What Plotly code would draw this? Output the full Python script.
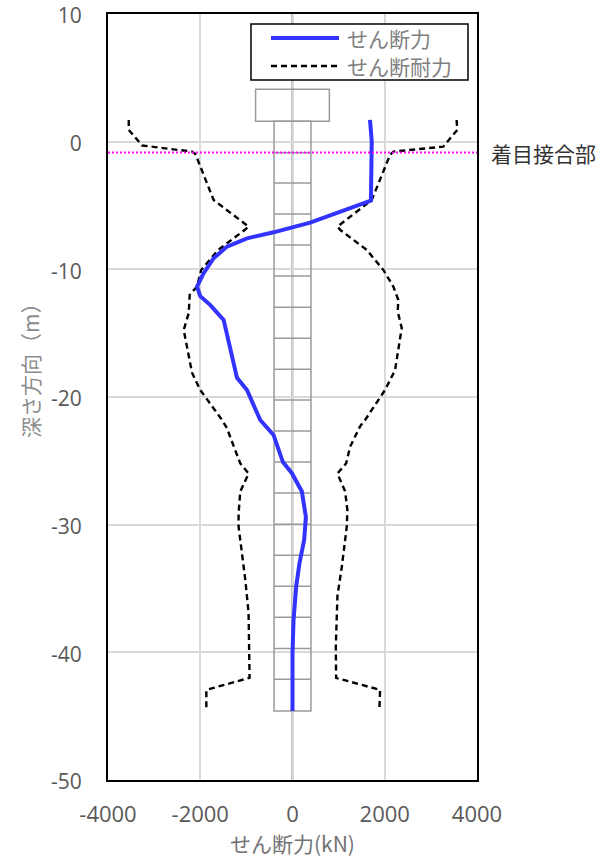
import plotly.graph_objects as go

# ---- data ----
shear_x = [1680, 1718, 1700, 383, -411, -987, -1420, -1710, -1926, -2070, -2000, -1781, -1493,
           -1203, -987, -700, -411, -208, -13, 203, 290, 253, 152, 80, 22, 0, 0]
shear_y = [1.7, 0.0, -4.62, -6.34, -7.1, -7.57, -8.22, -9.13, -10.3, -11.35, -12.1, -12.8, -13.96,
           -18.5, -19.45, -21.8, -22.97, -25.1, -25.97, -27.4, -29.4, -31.2, -33.0, -34.85, -37.5, -40.1, -44.6]

cap_pos_x = [3558, 3572, 3268, 2186, 2115, 1898, 1718, 974, 1032, 1610, 1970, 2186, 2294, 2281, 2368,
             2223, 2006, 1574, 1465, 1249, 1162, 974, 1141, 1190, 1177, 1069, 974, 939, 946, 1898, 1883]
cap_pos_y = [1.7, 0.92, -0.39, -0.78, -1.04, -3.0, -4.57, -6.65, -6.9, -8.48, -10.05, -11.35, -12.4, -13.3, -14.6,
             -17.9, -19.45, -21.8, -22.3, -23.9, -25.2, -26.0, -27.4, -28.85, -30.15, -33.3, -35.6, -39.55, -42.0, -42.94, -44.6]

cap_neg_x = [-3550, -3550, -3260, -2178, -2106, -1710, -952, -1032, -1610, -1980, -2070, -2229, -2250, -2359,
             -2178, -2000, -1528, -1420, -1270, -1132, -952, -1132, -1169, -1169, -1024, -952, -931, -1868, -1868]
cap_neg_y = [1.7, 0.92, -0.3, -0.78, -0.96, -4.57, -6.65, -6.9, -8.48, -10.05, -11.35, -12.0, -13.44, -14.75,
             -18.1, -19.45, -21.8, -22.45, -23.9, -25.2, -26.0, -27.4, -29.1, -30.15, -34.3, -36.9, -42.0, -42.94, -44.6]

# pile sketch (data units)
footing_x = [-800, 800]
footing_y = [1.6, 4.1]
pile_x = [-400, 400]
pile_top = 1.6
pile_bottom = -44.6
pile_joints = [-0.86, -3.24, -5.67, -8.09, -10.52, -12.97, -15.40, -17.83, -20.24, -22.67,
               -25.09, -27.52, -29.97, -32.40, -34.83, -37.26, -39.69, -42.11]
focus_depth = -0.85
focus_label = "着目接合部"

x_ticks = [-4000, -2000, 0, 2000, 4000]
x_ticktext = ["-4000", "-2000", "0", "2000", "4000"]
y_ticks = [10, 0, -10, -20, -30, -40, -50]
y_ticktext = ["10", "0", "-10", "-20", "-30", "-40", "-50"]

series_names = ["せん断力", "せん断耐力"]
x_title = "せん断力(kN)"
y_title = "深さ方向（m）"

FONT = "Open Sans, Noto Sans CJK JP, sans-serif"
CJK = "Noto Sans CJK JP, sans-serif"
BLUE = "#3333ff"
DASH = "6px,4px"

fig = go.Figure()
fig.add_trace(go.Scatter(x=cap_pos_x, y=cap_pos_y, mode="lines", name=series_names[1],
                         line=dict(color="black", width=2.4, dash=DASH), showlegend=False))
fig.add_trace(go.Scatter(x=cap_neg_x, y=cap_neg_y, mode="lines", name=series_names[1],
                         line=dict(color="black", width=2.4, dash=DASH), showlegend=False))
fig.add_trace(go.Scatter(x=shear_x, y=shear_y, mode="lines", name=series_names[0],
                         line=dict(color=BLUE, width=4), showlegend=False))

shapes = []
gray = "#9a9a9a"
shapes.append(dict(type="rect", xref="x", yref="y", x0=footing_x[0], x1=footing_x[1],
                   y0=footing_y[0], y1=footing_y[1], line=dict(color=gray, width=1.5), layer="between"))
shapes.append(dict(type="rect", xref="x", yref="y", x0=pile_x[0], x1=pile_x[1],
                   y0=pile_bottom, y1=pile_top, line=dict(color=gray, width=1.5), layer="between"))
for d in pile_joints:
    shapes.append(dict(type="line", xref="x", yref="y", x0=pile_x[0], x1=pile_x[1], y0=d, y1=d,
                       line=dict(color=gray, width=1.5), layer="between"))
# zero lines over pile sketch
shapes.append(dict(type="line", xref="x", yref="paper", x0=0, x1=0, y0=0, y1=1,
                   line=dict(color="black", width=1.5), layer="between"))
shapes.append(dict(type="line", xref="paper", yref="y", x0=0, x1=1, y0=0, y1=0,
                   line=dict(color="black", width=1.5), layer="between"))
# focus line
shapes.append(dict(type="line", xref="paper", yref="y", x0=0, x1=1, y0=focus_depth, y1=focus_depth,
                   line=dict(color="#ff00ff", width=2, dash="2px,2px"), layer="above"))

# manual legend (paper coords)
L, R, T, B = 108, 477, 14, 780
W, H = R - L, B - T
def px(x): return (x - L) / W
def py(y): return 1 - (y - T) / H
shapes.append(dict(type="rect", xref="paper", yref="paper", x0=px(251), x1=px(468), y0=py(80), y1=py(24),
                   line=dict(color="black", width=1.5), fillcolor="white", layer="above"))
shapes.append(dict(type="line", xref="paper", yref="paper", x0=px(271), x1=px(339), y0=py(38), y1=py(38),
                   line=dict(color=BLUE, width=4), layer="above"))
shapes.append(dict(type="line", xref="paper", yref="paper", x0=px(271), x1=px(339), y0=py(66), y1=py(66),
                   line=dict(color="black", width=2.4, dash=DASH), layer="above"))
annotations = [
    dict(xref="paper", yref="paper", x=px(345), y=py(38), text=series_names[0], showarrow=False,
         xanchor="left", yanchor="middle", font=dict(family=CJK, size=21, color="#7f7f7f")),
    dict(xref="paper", yref="paper", x=px(345), y=py(66), text=series_names[1], showarrow=False,
         xanchor="left", yanchor="middle", font=dict(family=CJK, size=21, color="#7f7f7f")),
    dict(xref="paper", yref="y", x=px(489), y=focus_depth, text=focus_label, showarrow=False,
         xanchor="left", yanchor="middle", font=dict(family=CJK, size=21, color="#333333")),
    dict(xref="paper", yref="paper", x=px(30), y=py(366), text=y_title, showarrow=False, textangle=-90,
         xanchor="center", yanchor="middle", font=dict(family=CJK, size=21, color="#8c8c8c")),
]

fig.update_layout(
    width=610, height=861,
    margin=dict(l=L, r=610 - R, t=T, b=861 - B, pad=0),
    paper_bgcolor="white", plot_bgcolor="white",
    font=dict(family=FONT, size=22, color="#595959"),
    shapes=shapes, annotations=annotations,
    showlegend=False,
    xaxis=dict(range=[-4000, 4000], tickvals=x_ticks, ticktext=x_ticktext,
               showgrid=True, gridcolor="#d9d9d9", gridwidth=1.5, zeroline=False,
               showline=True, linecolor="black", linewidth=2, mirror=True, ticks="",
               ticklabelstandoff=14, automargin=False, ticklabeloverflow="allow",
               tickfont=dict(family=FONT, size=22, color="#595959"),
               title=dict(text=x_title, font=dict(family=CJK, size=21, color="#737373"), standoff=6)),
    yaxis=dict(range=[-50, 10], tickvals=y_ticks, ticktext=y_ticktext,
               showgrid=True, gridcolor="#d9d9d9", gridwidth=1.5, zeroline=False,
               showline=True, linecolor="black", linewidth=2, mirror=True, ticks="",
               ticklabelstandoff=20, ticklabelshift=2, automargin=False, ticklabeloverflow="allow",
               tickfont=dict(family=FONT, size=21, color="#595959")),
)

fig.write_html("out.html", config={"displayModeBar": False},
               post_script="document.body.style.margin='0';document.body.style.overflow='hidden';")
